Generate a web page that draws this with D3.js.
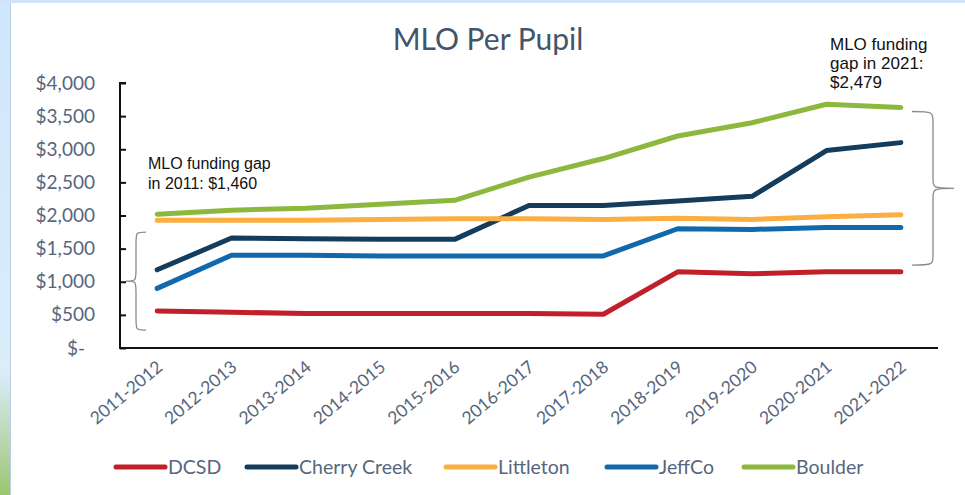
<!DOCTYPE html>
<html lang="en">
  <head>
    <meta charset="utf-8" />
    <title>MLO Per Pupil</title>
    <style>
      html, body { margin: 0; padding: 0; background: #fff; }
      svg { display: block; }
      .tick text { fill: #56667d; }
    </style>
  </head>
  <body>
    <svg></svg>
    <script src="https://d3js.org/d3.v7.min.js"></script>
    <script type="text/javascript">
      let width = 965,
        height = 495

      // data
      const years = ['2011-2012', '2012-2013', '2013-2014', '2014-2015', '2015-2016', '2016-2017',
        '2017-2018', '2018-2019', '2019-2020', '2020-2021', '2021-2022']
      const dcsd = [560, 540, 520, 520, 520, 520, 510, 1150, 1120, 1150, 1150]
      const cherryCreek = [1180, 1660, 1650, 1640, 1640, 2150, 2150, 2220, 2290, 2980, 3100]
      const littleton = [1930, 1930, 1930, 1940, 1950, 1950, 1940, 1960, 1940, 1980, 2010]
      const jeffco = [900, 1400, 1400, 1390, 1390, 1390, 1390, 1800, 1790, 1820, 1820]
      const boulder = [2020, 2080, 2110, 2170, 2230, 2580, 2860, 3200, 3400, 3680, 3630]
      const yTicks = [0, 500, 1000, 1500, 2000, 2500, 3000, 3500, 4000]

      const series = [
        { name: 'DCSD', values: dcsd, color: '#c1202b' },
        { name: 'Cherry Creek', values: cherryCreek, color: '#143c5c' },
        { name: 'Littleton', values: littleton, color: '#fbae42' },
        { name: 'JeffCo', values: jeffco, color: '#1169ad' },
        { name: 'Boulder', values: boulder, color: '#8cb83d' },
      ]

      let svg = d3.select('svg').attr('width', width).attr('height', height)

      // slide frame on the left / top
      const defs = svg.append('defs')
      const grad = defs.append('linearGradient').attr('id', 'edge').attr('x1', 0).attr('y1', 0).attr('x2', 0).attr('y2', 1)
      grad.append('stop').attr('offset', '0%').attr('stop-color', '#cfe6fb')
      grad.append('stop').attr('offset', '75%').attr('stop-color', '#dcedf9')
      grad.append('stop').attr('offset', '100%').attr('stop-color', '#9cc672')
      svg.append('rect').attr('x', 0).attr('y', 0).attr('width', 10).attr('height', height).attr('fill', 'url(#edge)')
      svg.append('rect').attr('x', 0).attr('y', 0).attr('width', width).attr('height', 3).attr('fill', '#cfe4f8')
      svg.append('line').attr('x1', 10.5).attr('x2', 10.5).attr('y1', 3).attr('y2', height)
        .attr('stroke', '#b9cfe4').attr('stroke-width', 1)

      const x = d3.scalePoint().domain(years).range([120, 938]).padding(0.5)
      const y = d3.scaleLinear().domain([0, 4000]).range([348, 83])

      // title
      svg.append('text').attr('x', 488).attr('y', 50).attr('text-anchor', 'middle')
        .attr('font-family', 'Lato, sans-serif').attr('font-size', 30).attr('fill', '#44546a')
        .text('MLO Per Pupil')

      // y axis
      const yAxis = svg.append('g').attr('transform', 'translate(120,0)')
        .call(d3.axisRight(y).tickValues(yTicks).tickSize(6).tickFormat((d) => (d === 0 ? '$-' : d3.format('$,')(d))))
      yAxis.select('.domain').attr('stroke', '#111').attr('stroke-width', 2).attr('d', 'M6,83H0V348')
      yAxis.selectAll('.tick line').attr('stroke', '#111').attr('stroke-width', 2)
      yAxis.selectAll('.tick text').attr('x', -25).attr('text-anchor', 'end')
        .attr('font-family', 'Lato, sans-serif').attr('font-size', 19)
      yAxis.selectAll('.tick text').filter((d) => d === 0).attr('x', -35)

      // x axis
      const xAxis = svg.append('g').attr('transform', 'translate(0,348)')
        .call(d3.axisBottom(x).tickSize(0))
      xAxis.select('.domain').attr('stroke', '#111').attr('stroke-width', 2).attr('d', 'M119,0H938')
      xAxis.selectAll('.tick text').attr('text-anchor', 'end').attr('dy', 0).attr('y', 0)
        .attr('transform', 'translate(6,21) rotate(-40)')
        .attr('font-family', 'Lato, sans-serif').attr('font-size', 17.5)

      // lines
      const line = d3.line().x((d, i) => x(years[i])).y((d) => y(d))
      svg.append('g').selectAll('path').data(series).join('path')
        .attr('d', (d) => line(d.values)).attr('fill', 'none')
        .attr('stroke', (d) => d.color).attr('stroke-width', 5)
        .attr('stroke-linecap', 'round').attr('stroke-linejoin', 'round')

      // braces
      function brace(x0, y0, y1, dir, w) {
        const m = (y0 + y1) / 2
        const xm = x0 + dir * w
        const xc = x0 + dir * w / 2
        return `M${x0},${y0} C${xc},${y0} ${xc},${y0} ${xc},${y0 + 12} L${xc},${m - 12} C${xc},${m} ${xc},${m} ${xm},${m}` +
          ` C${xc},${m} ${xc},${m} ${xc},${m + 12} L${xc},${y1 - 12} C${xc},${y1} ${xc},${y1} ${x0},${y1}`
      }
      svg.append('path').attr('d', brace(146, y(1750), y(270), -1, 20))
        .attr('fill', 'none').attr('stroke', '#8a8a8a').attr('stroke-width', 1.3)
      svg.append('path').attr('d', brace(912, y(3570), y(1250), 1, 42))
        .attr('fill', 'none').attr('stroke', '#8a8a8a').attr('stroke-width', 1.3)

      // annotations
      const note = svg.append('g').attr('font-family', 'Liberation Sans, Arial, sans-serif').attr('fill', '#111')
      note.append('text').attr('x', 148).attr('y', 169).attr('font-size', 16).text('MLO funding gap')
      note.append('text').attr('x', 148).attr('y', 189).attr('font-size', 16).text('in 2011: $1,460')
      note.append('text').attr('x', 830).attr('y', 50).attr('font-size', 17).text('MLO funding')
      note.append('text').attr('x', 830).attr('y', 69).attr('font-size', 17).text('gap in 2021:')
      note.append('text').attr('x', 830).attr('y', 88).attr('font-size', 17).text('$2,479')

      // legend
      const legendX = [114, 245, 444, 605, 742]
      const legend = svg.append('g').selectAll('g').data(series).join('g')
        .attr('transform', (d, i) => `translate(${legendX[i]},467)`)
      legend.append('line').attr('x1', 2).attr('x2', 51).attr('y1', 0).attr('y2', 0)
        .attr('stroke', (d) => d.color).attr('stroke-width', 5).attr('stroke-linecap', 'round')
      legend.append('text').attr('x', 54).attr('y', 7).attr('font-family', 'Lato, sans-serif')
        .attr('font-size', 19.5).attr('fill', '#56667d').text((d) => d.name)
    </script>
  </body>
</html>
